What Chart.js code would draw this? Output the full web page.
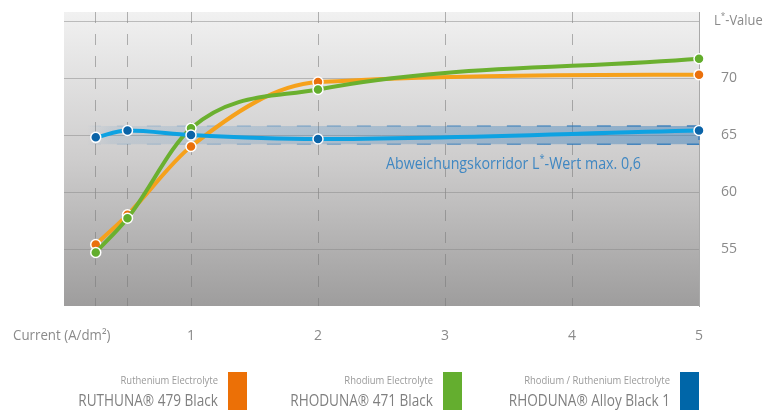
<!DOCTYPE html>
<html>
<head>
<meta charset="utf-8">
<script src="https://cdn.jsdelivr.net/npm/chart.js@4"></script>
<style>
  html, body { margin:0; padding:0; background:#fff; }
  #wrap { width:769px; height:410px; }
</style>
</head>
<body>
<div id="wrap"><canvas id="chart" width="769" height="410"></canvas></div>
<script>
// Data
const currents = [0.25, 0.5, 1, 2, 5];
const ruthuna479 = [55.4, 58.0, 64.0, 69.65, 70.3];
const rhoduna471 = [54.7, 57.7, 65.6, 69.0, 71.7];
const rhodunaAlloy = [64.8, 65.4, 65.0, 64.65, 65.4];
const corridorX = [0.18, 5];
const corridorLow = 64.2, corridorHigh = 65.8;
const xGridValues = [0.25, 0.5, 1, 2, 3, 4, 5];
const yTickValues = [55, 60, 65, 70, 75];
const legendSub = ["Ruthenium Electrolyte", "Rhodium Electrolyte", "Rhodium / Ruthenium Electrolyte"];
const legendNames = ["RUTHUNA® 479 Black", "RHODUNA® 471 Black", "RHODUNA® Alloy Black 1"];
const legendColors = ["#ec7006", "#64ae2f", "#0066a8"];

const FONT = "'Open Sans', 'Noto Sans', sans-serif";
function pts(ys){ return currents.map((x,i)=>({x, y:ys[i]})); }

// text drawn a bit condensed, "*" as superscript
function drawText(ctx, text, x, y, size, color, align, squeeze){
  ctx.save();
  ctx.fillStyle = color;
  ctx.textBaseline = "middle";
  ctx.textAlign = "left";
  const sq = squeeze || 1;
  const parts = text.split("*");
  const font = size + "px " + FONT, supFont = Math.round(size*0.65) + "px " + FONT;
  let w = 0;
  parts.forEach((p,i)=>{ ctx.font = font; w += ctx.measureText(p).width; if (i<parts.length-1){ ctx.font = supFont; w += ctx.measureText("*").width; } });
  const x0 = align === "right" ? x - w*sq : x;
  ctx.translate(x0, y); ctx.scale(sq, 1);
  let cx = 0;
  parts.forEach((p,i)=>{
    ctx.font = font; ctx.fillText(p, cx, 0); cx += ctx.measureText(p).width;
    if (i<parts.length-1){ ctx.font = supFont; ctx.fillText("*", cx, -size*0.35); cx += ctx.measureText("*").width; }
  });
  ctx.restore();
}

const bgPlugin = {
  id: "bg",
  beforeDraw(chart){
    const {ctx, chartArea:a} = chart;
    const g = ctx.createLinearGradient(0, a.top, 0, a.bottom);
    g.addColorStop(0, "#f1f1f1");
    g.addColorStop(0.5, "#cecdcd");
    g.addColorStop(1, "#9e9d9d");
    ctx.save(); ctx.fillStyle = g; ctx.fillRect(a.left, a.top, a.right-a.left, a.bottom-a.top); ctx.restore();
  }
};

const textPlugin = {
  id: "texts",
  afterDraw(chart){
    const ctx = chart.ctx;
    const ys = chart.scales.y;
    drawText(ctx, "Current (A/dm²)", 13, 336, 14, "#8a8a8a", "left", 0.95);
    drawText(ctx, "L*-Value", 714, ys.getPixelForValue(75), 14, "#8a8a8a", "left", 0.92);
    drawText(ctx, "Abweichungskorridor L*-Wert max. 0,6", 641, 165, 15.5, "#3f87c2", "right", 0.92);
    legendNames.forEach((name,i)=>{
      const bx = [228, 443, 680][i];
      ctx.save(); ctx.fillStyle = legendColors[i]; ctx.fillRect(bx, 372, 19, 38); ctx.restore();
      drawText(ctx, legendSub[i], bx - 10, 381, 10.5, "#9a9a9a", "right", 0.9);
      drawText(ctx, name, bx - 10, 401, 16, "#7f7f7f", "right", 0.85);
    });
  }
};

// corridor fades in from the left
function bandGradient(c, a0, a1){
  const chart = c.chart;
  if (!chart.chartArea) return "rgba(45,120,185," + a1 + ")";
  const xs = chart.scales.x;
  const g = chart.ctx.createLinearGradient(xs.getPixelForValue(corridorX[0]), 0, xs.getPixelForValue(corridorX[1]), 0);
  g.addColorStop(0, "rgba(45,120,185,0)");
  g.addColorStop(0.04, "rgba(45,120,185," + a0 + ")");
  g.addColorStop(1, "rgba(45,120,185," + a1 + ")");
  return g;
}
const bandFill = (c)=> bandGradient(c, 0.1, 0.45);
const bandLine = (c)=> bandGradient(c, 0.12, 0.9);

const lineBase = { borderWidth:4, pointBorderColor:"#fff", pointBorderWidth:1.5, pointRadius:5,
  cubicInterpolationMode:"monotone", clip:false, fill:false };

new Chart(document.getElementById("chart"), {
  type: "line",
  data: {
    datasets: [
      Object.assign({ label:"RHODUNA Alloy Black 1", data: pts(rhodunaAlloy), order:0,
        borderColor:"#0ea2e2", pointBackgroundColor:"#0b64a8" }, lineBase),
      Object.assign({ label:"RHODUNA 471 Black", data: pts(rhoduna471), order:1,
        borderColor:"#6bb02f", pointBackgroundColor:"#62ad2c" }, lineBase),
      Object.assign({ label:"RUTHUNA 479 Black", data: pts(ruthuna479), order:2,
        borderColor:"#f6a11b", pointBackgroundColor:"#ea700c" }, lineBase),
      { label:"corridor high", data: corridorX.map(x=>({x, y:corridorHigh})), order:3,
        borderColor: bandLine, borderWidth:1.5, borderDash:[14,16], pointRadius:0,
        fill:"+1", backgroundColor: bandFill },
      { label:"corridor low", data: corridorX.map(x=>({x, y:corridorLow})), order:4,
        borderColor: bandLine, borderWidth:1.5, borderDash:[14,16], pointRadius:0, fill:false },
      { label:"corridor edge", data: [{x:corridorX[1], y:corridorHigh}, {x:corridorX[1], y:corridorLow}], order:5,
        borderColor:"#3f7fbd", borderWidth:1.5, borderDash:[5,4], pointRadius:0, fill:false, clip:false }
    ]
  },
  options: {
    responsive:false, animation:false, devicePixelRatio:1,
    layout:{ padding:{ left:64, top:12, right:0, bottom:0 } },
    plugins:{ legend:{display:false}, tooltip:{enabled:false}, filler:{ propagate:false } },
    scales:{
      x:{
        type:"linear", min:0, max:5,
        afterBuildTicks(s){ s.ticks = xGridValues.map(v=>({value:v})); },
        afterFit(s){ s.height = 104; s.paddingLeft = 0; s.paddingRight = 0; },
        ticks:{ autoSkip:false, maxRotation:0, padding:22, color:"#8a8a8a", font:{family:FONT, size:14},
          callback:(v)=> Number.isInteger(v) && v>=1 ? String(v) : "" },
        grid:{ drawTicks:false, lineWidth:1,
          color:(c)=> c.tick && c.tick.value === 5 ? "rgba(0,0,0,0)" : "rgba(120,120,120,0.55)" },
        border:{ display:false, dash:[11,11] }
      },
      y:{
        position:"right", min:50, max:75.8,
        afterBuildTicks(s){ s.ticks = yTickValues.map(v=>({value:v})); },
        afterFit(s){ s.width = 70; s.paddingTop = 0; s.paddingBottom = 0; },
        ticks:{ padding:22, color:"#8a8a8a", font:{family:FONT, size:14},
          callback:(v)=> v===75 ? "" : String(v) },
        grid:{ drawTicks:false, color:"rgba(135,135,135,0.5)", lineWidth:1 },
        border:{ display:true, color:"#a9a9a9", width:1 }
      }
    }
  },
  plugins:[bgPlugin, textPlugin]
});
</script>
</body>
</html>
